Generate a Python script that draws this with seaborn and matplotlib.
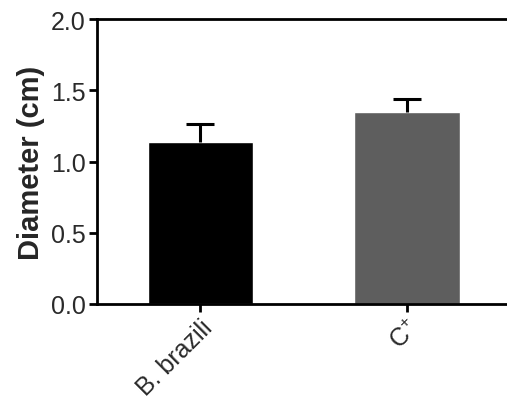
import matplotlib
matplotlib.use("Agg")
import matplotlib.pyplot as plt
import seaborn as sns

# data
groups = ["B. brazili", "C$^{\\mathregular{+}}$"]
means = [1.137, 1.347]
errors = [0.128, 0.093]
colors = ["#000000", "#5e5e5e"]
yticks = [0.0, 0.5, 1.0, 1.5, 2.0]

sns.set_theme(style="ticks")
plt.rcParams["font.family"] = ["Liberation Sans", "DejaVu Sans"]
plt.rcParams["mathtext.fontset"] = "custom"
plt.rcParams["mathtext.rm"] = "Liberation Sans"

fig = plt.figure(figsize=(5.07, 4.10), dpi=100)
ax = fig.add_axes([97 / 507, 105 / 410, 413.5 / 507, 285 / 410])

sns.barplot(x=groups, y=means, hue=groups, palette=colors, width=0.51,
            saturation=1, legend=False, errorbar=None, ax=ax)

# GraphPad style: upper error bar only, no cap at the bar top
xs = list(range(len(groups)))
tops = [m + e for m, e in zip(means, errors)]
cap = 0.068
ax.vlines(xs, means, tops, color="black", linewidth=2.2, zorder=1)
ax.hlines(tops, [x - cap for x in xs], [x + cap for x in xs],
          color="black", linewidth=2.2, zorder=1)

ax.set_xlim(-0.5, 1.5)
ax.set_ylim(0, 2.0)
ax.set_yticks(yticks)
ax.set_yticklabels([f"{v:.1f}" for v in yticks])
ax.set_ylabel("Diameter (cm)", fontsize=21, fontweight="bold", labelpad=4)
ax.set_xlabel("")

for side in ["left", "bottom", "top"]:
    ax.spines[side].set_linewidth(2)
    ax.spines[side].set_color("black")
ax.spines["right"].set_visible(False)

ax.tick_params(axis="both", width=2, length=6, color="black",
               labelsize=18, labelcolor="#2a2a2a", pad=2)
plt.setp(ax.get_xticklabels(), rotation=45, ha="right", rotation_mode="anchor")

fig.savefig("out.png", dpi=100)
